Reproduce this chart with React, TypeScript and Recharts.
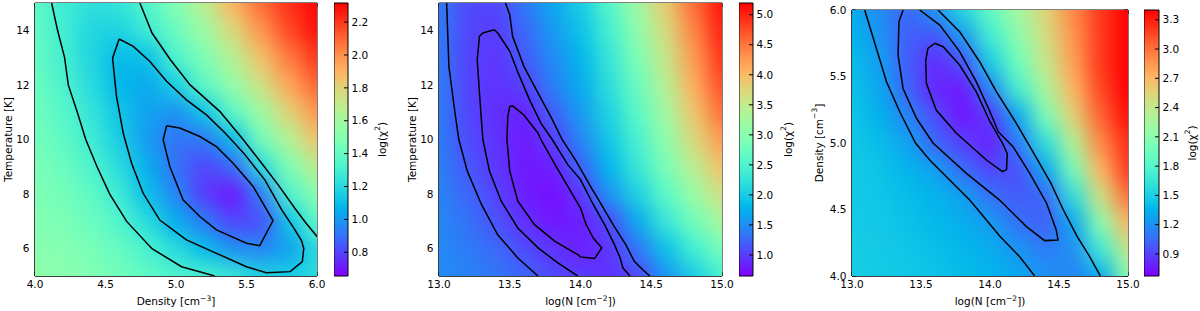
import React from 'react'
import { ScatterChart, Scatter, XAxis, YAxis, ReferenceArea, ReferenceLine } from 'recharts'

type Pt = [number, number]
type Part = string | { sup: string }

// ---------- panel 1: Density / Temperature ----------
const p1X = [4.0, 4.2, 4.4, 4.6, 4.8, 5.0, 5.2, 5.4, 5.6, 5.8, 6.0]
const p1Y = [15, 14, 13, 12, 11, 10, 9, 8, 7, 6, 5] // rows of p1Grid, top to bottom
const p1Grid = [
  [1.38, 1.28, 1.22, 1.24, 1.34, 1.5, 1.68, 1.9, 2.08, 2.22, 2.3],
  [1.39, 1.29, 1.18, 1.17, 1.28, 1.42, 1.58, 1.78, 1.98, 2.16, 2.28],
  [1.4, 1.3, 1.18, 1.09, 1.11, 1.33, 1.48, 1.66, 1.86, 2.05, 2.2],
  [1.42, 1.32, 1.2, 1.08, 1.04, 1.16, 1.38, 1.55, 1.74, 1.94, 2.1],
  [1.43, 1.36, 1.24, 1.12, 1.02, 0.98, 1.12, 1.38, 1.58, 1.8, 1.98],
  [1.45, 1.38, 1.28, 1.15, 1.0, 0.9, 0.92, 1.09, 1.45, 1.65, 1.85],
  [1.47, 1.42, 1.33, 1.2, 1.05, 0.9, 0.8, 0.88, 1.2, 1.48, 1.68],
  [1.48, 1.45, 1.38, 1.27, 1.1, 0.95, 0.78, 0.7, 0.93, 1.33, 1.52],
  [1.5, 1.47, 1.42, 1.33, 1.2, 1.05, 0.93, 0.8, 0.82, 1.12, 1.38],
  [1.52, 1.5, 1.46, 1.4, 1.31, 1.2, 1.09, 0.98, 0.95, 1.02, 1.2],
  [1.54, 1.52, 1.49, 1.44, 1.38, 1.33, 1.31, 1.25, 1.17, 1.15, 1.2],
]
const p1XTicks = [4.0, 4.5, 5.0, 5.5, 6.0]
const p1YTicks = [6, 8, 10, 12, 14]
const p1Range: [number, number] = [0.656, 2.316]
const p1CbarTicks = [0.8, 1.0, 1.2, 1.4, 1.6, 1.8, 2.0, 2.2]

const p1OuterA: Pt[] = [[4.118, 15], [4.16, 14], [4.21, 13], [4.236, 12], [4.3, 11], [4.36, 10], [4.44, 9], [4.53, 8], [4.65, 7], [4.83, 6], [5.04, 5.34], [5.275, 5]]
const p1OuterB: Pt[] = [[4.744, 15], [4.83, 13.9], [4.96, 12.92], [5.1, 12.0], [5.31, 11.03], [5.476, 10.0], [5.59, 9.25], [5.73, 8.3], [5.84, 7.5], [5.92, 6.95], [6.0, 6.45]]
const p1Middle: Pt[] = [
  [4.597, 13.68], [4.697, 13.41], [4.815, 12.86], [4.933, 12.13], [5.074, 11.45], [5.216, 10.9], [5.35, 10.23],
  [5.48, 9.5], [5.63, 8.52], [5.75, 7.42], [5.83, 6.8], [5.89, 6.3], [5.906, 6.01], [5.896, 5.53], [5.81, 5.16],
  [5.64, 5.12], [5.5, 5.34], [5.287, 5.83], [5.074, 6.32], [4.885, 7.05], [4.767, 8.03], [4.685, 9.13],
  [4.626, 10.23], [4.578, 11.58], [4.55, 12.98], [4.597, 13.68],
]
const p1Inner: Pt[] = [
  [4.933, 10.5], [5.027, 10.42], [5.169, 10.11], [5.287, 9.74], [5.405, 9.13], [5.547, 8.28], [5.688, 7.03],
  [5.594, 6.11], [5.5, 6.2], [5.287, 6.69], [5.169, 7.18], [5.05, 7.79], [4.956, 9.01], [4.909, 9.99], [4.933, 10.5],
]

// ---------- panel 2: log N / Temperature ----------
const p2X = [13.0, 13.2, 13.4, 13.6, 13.8, 14.0, 14.2, 14.4, 14.6, 14.8, 15.0]
const p2Y = [15, 14, 13, 12, 11, 10, 9, 8, 7, 6, 5]
const p2Grid = [
  [1.38, 1.08, 1.05, 1.35, 1.68, 2.0, 2.55, 3.2, 3.85, 4.55, 5.1],
  [1.38, 1.06, 0.99, 1.25, 1.58, 1.9, 2.4, 3.05, 3.7, 4.4, 5.0],
  [1.38, 1.04, 0.95, 1.18, 1.48, 1.8, 2.28, 2.9, 3.55, 4.25, 4.9],
  [1.39, 1.04, 0.93, 1.02, 1.4, 1.72, 2.18, 2.75, 3.4, 4.1, 4.75],
  [1.39, 1.06, 0.92, 0.84, 1.2, 1.6, 2.06, 2.6, 3.22, 3.92, 4.55],
  [1.4, 1.08, 0.94, 0.8, 1.0, 1.45, 1.95, 2.45, 3.05, 3.72, 4.25],
  [1.42, 1.16, 0.97, 0.79, 0.82, 1.24, 1.8, 2.3, 2.88, 3.45, 3.95],
  [1.44, 1.26, 1.04, 0.82, 0.72, 0.95, 1.55, 2.05, 2.6, 3.15, 3.65],
  [1.46, 1.33, 1.13, 0.93, 0.78, 0.82, 1.08, 1.7, 2.3, 2.8, 3.3],
  [1.48, 1.38, 1.27, 1.08, 0.95, 0.83, 0.95, 1.35, 1.9, 2.4, 2.85],
  [1.5, 1.43, 1.36, 1.24, 1.07, 0.99, 0.93, 1.05, 1.55, 2.0, 2.45],
]
const p2XTicks = [13.0, 13.5, 14.0, 14.5, 15.0]
const p2YTicks = [6, 8, 10, 12, 14]
const p2Range: [number, number] = [0.65, 5.195]
const p2CbarTicks = [1.0, 1.5, 2.0, 2.5, 3.0, 3.5, 4.0, 4.5, 5.0]

const p2OuterA: Pt[] = [[13.054, 15], [13.07, 12.68], [13.11, 11.09], [13.14, 10.0], [13.2, 8.84], [13.3, 7.62], [13.415, 6.51], [13.557, 5.66], [13.7, 5.0]]
const p2OuterB: Pt[] = [
  [13.47, 15], [13.5, 14.57], [13.52, 13.78], [13.6, 12.68], [13.7, 11.7], [13.79, 10.84], [13.87, 10.0],
  [13.97, 9.2], [14.08, 8.2], [14.15, 7.6], [14.23, 6.88], [14.32, 6.15], [14.38, 5.54], [14.44, 5.23], [14.49, 5.0],
]
const p2Middle: Pt[] = [
  [13.98, 5.0], [13.84, 5.48], [13.7, 6.03], [13.557, 6.76], [13.44, 7.74], [13.357, 8.84], [13.31, 10.0],
  [13.286, 11.7], [13.27, 12.92], [13.286, 13.78], [13.31, 13.9], [13.39, 14.02], [13.415, 13.9], [13.5, 13.23],
  [13.56, 12.43], [13.64, 11.45], [13.72, 10.6], [13.8, 10.0], [13.91, 9.08], [14.0, 8.53], [14.09, 7.62],
  [14.17, 6.88], [14.24, 6.15], [14.28, 5.66], [14.3, 5.29], [14.35, 5.0],
]
const p2Inner: Pt[] = [
  [13.5, 11.21], [13.52, 11.23], [13.6, 10.9], [13.7, 10.23], [13.72, 10.0], [13.82, 9.08], [13.93, 8.11],
  [14.0, 7.49], [14.04, 6.88], [14.09, 6.39], [14.15, 6.03], [14.1, 5.64], [14.0, 5.7], [13.98, 5.78],
  [13.82, 6.27], [13.675, 6.88], [13.557, 7.74], [13.5, 8.84], [13.48, 10.0], [13.486, 10.84], [13.5, 11.21],
]

// ---------- panel 3: log N / Density ----------
const p3X = [13.0, 13.2, 13.4, 13.6, 13.8, 14.0, 14.2, 14.4, 14.6, 14.8, 15.0]
const p3Y = [6.0, 5.8, 5.6, 5.4, 5.2, 5.0, 4.8, 4.6, 4.4, 4.2, 4.0]
const p3Grid = [
  [1.32, 1.18, 1.03, 1.22, 1.55, 1.88, 2.22, 2.55, 2.9, 3.2, 3.4],
  [1.36, 1.22, 1.0, 0.97, 1.22, 1.7, 2.1, 2.48, 2.85, 3.2, 3.4],
  [1.4, 1.26, 1.0, 0.82, 0.95, 1.48, 1.95, 2.4, 2.8, 3.2, 3.4],
  [1.42, 1.3, 1.03, 0.8, 0.76, 1.15, 1.72, 2.25, 2.7, 3.15, 3.4],
  [1.44, 1.35, 1.15, 0.95, 0.74, 0.87, 1.3, 2.0, 2.55, 3.05, 3.35],
  [1.45, 1.4, 1.28, 1.03, 0.9, 0.78, 1.12, 1.6, 2.3, 2.9, 3.25],
  [1.46, 1.43, 1.36, 1.27, 1.06, 0.92, 0.95, 1.3, 2.0, 2.7, 3.2],
  [1.46, 1.44, 1.4, 1.35, 1.27, 1.08, 0.98, 1.04, 1.6, 2.45, 3.0],
  [1.47, 1.45, 1.42, 1.38, 1.33, 1.25, 1.08, 1.0, 1.3, 2.1, 2.7],
  [1.48, 1.46, 1.44, 1.41, 1.37, 1.32, 1.22, 1.12, 1.18, 1.7, 2.4],
  [1.48, 1.47, 1.45, 1.43, 1.4, 1.36, 1.3, 1.2, 1.15, 1.3, 2.1],
]
const p3XTicks = [13.0, 13.5, 14.0, 14.5, 15.0]
const p3YTicks = [4.0, 4.5, 5.0, 5.5, 6.0]
const p3Range: [number, number] = [0.674, 3.4]
const p3CbarTicks = [0.9, 1.2, 1.5, 1.8, 2.1, 2.4, 2.7, 3.0, 3.3]

const p3OuterA: Pt[] = [
  [13.092, 6.0], [13.177, 5.71], [13.25, 5.46], [13.346, 5.235], [13.46, 5.0], [13.563, 4.872], [13.708, 4.722],
  [13.853, 4.571], [13.974, 4.421], [14.07, 4.3], [14.215, 4.145], [14.324, 4.0],
]
const p3OuterB: Pt[] = [
  [13.623, 6.0], [13.78, 5.837], [13.925, 5.611], [14.046, 5.386], [14.19, 5.15], [14.33, 4.9], [14.44, 4.7],
  [14.53, 4.5], [14.63, 4.3], [14.72, 4.15], [14.8, 4.0],
]
const p3Middle: Pt[] = [
  [13.37, 6.0], [13.34, 5.91], [13.334, 5.66], [13.37, 5.41], [13.467, 5.186], [13.587, 5.0], [13.829, 4.772],
  [14.07, 4.571], [14.264, 4.371], [14.396, 4.266], [14.493, 4.271], [14.48, 4.346], [14.41, 4.547],
  [14.288, 4.772], [14.167, 4.972], [14.06, 5.085], [14.0, 5.235], [13.9, 5.461], [13.78, 5.687],
  [13.636, 5.887], [13.49, 6.0],
]
const p3Inner: Pt[] = [
  [13.6, 5.75], [13.66, 5.724], [13.78, 5.586], [13.9, 5.386], [14.0, 5.16], [14.09, 5.0], [14.125, 4.92],
  [14.12, 4.8], [14.09, 4.784], [13.974, 4.872], [13.757, 5.073], [13.61, 5.248], [13.539, 5.449],
  [13.534, 5.62], [13.55, 5.712], [13.6, 5.75],
]

// matplotlib "rainbow" colormap
const rainbow = (t: number) => {
  const c = Math.min(1, Math.max(0, t))
  const ch = (v: number) => Math.round(Math.min(1, Math.max(0, v)) * 255)
  const r = Math.abs(2 * c - 0.5)
  const g = Math.sin(Math.PI * c)
  const b = Math.cos((Math.PI * c) / 2)
  return `rgb(${ch(r)},${ch(g)},${ch(b)})`
}

const FONT = 10.5
const CHART_H = 311
const X_AXIS_H = 35
const TICK_LEN = 4

const Title = ({ parts, x, y, rotate }: { parts: Part[]; x: number; y: number; rotate?: boolean }) => (
  <text
    x={x}
    y={y}
    textAnchor="middle"
    fontSize={FONT}
    fill="#000"
    dominantBaseline={rotate ? 'central' : undefined}
    transform={rotate ? `rotate(-90 ${x} ${y})` : undefined}
  >
    {parts.map((p, k) =>
      typeof p === 'string' ? (
        <tspan key={k}>{p}</tspan>
      ) : (
        <tspan key={k} fontSize={7.5} baselineShift="super">
          {p.sup}
        </tspan>
      )
    )}
  </text>
)

interface PanelProps {
  left: number
  top: number
  axisW: number
  plotW: number
  xs: number[]
  ys: number[]
  grid: number[][]
  range: [number, number]
  xTicks: number[]
  yTicks: number[]
  yFmt: (v: number) => string
  contours: Pt[][]
  xTitle: Part[]
  yTitle: Part[]
  yTitleX: number
}

const Panel = ({ left, top, axisW, plotW, xs, ys, grid, range, xTicks, yTicks, yFmt, contours, xTitle, yTitle, yTitleX }: PanelProps) => {
  const rightPad = 14
  const plotH = CHART_H - X_AXIS_H - top
  const [x0d, x1d] = [xs[0], xs[xs.length - 1]]
  const [y0d, y1d] = [ys[ys.length - 1], ys[0]]
  const cw = plotW / (xs.length - 1)
  const chh = plotH / (ys.length - 1)
  const ext = 30
  // tick length on the mirrored top / right sides, in data units
  const dy = (TICK_LEN * (y1d - y0d)) / plotH
  const dx = (TICK_LEN * (x1d - x0d)) / plotW

  const cells = grid.flatMap((row, j) => row.map((v, i) => ({ x: xs[i], y: ys[j], v, i, j })))

  const cellShape = (props: any) => {
    const { cx, cy, payload } = props
    let a = cx - cw / 2
    let b = cx + cw / 2
    let c = cy - chh / 2
    let d = cy + chh / 2
    if (payload.i === 0) a -= ext
    if (payload.i === xs.length - 1) b += ext
    if (payload.j === 0) c -= ext
    if (payload.j === ys.length - 1) d += ext
    const t = (payload.v - range[0]) / (range[1] - range[0])
    return <rect x={a} y={c} width={b - a + 0.6} height={d - c + 0.6} fill={rainbow(t)} />
  }

  const axisStyle = { stroke: '#000', strokeWidth: 1 }
  const tickStyle = { fill: '#000', fontSize: FONT }

  return (
    <div style={{ position: 'absolute', left, top: 0 }}>
      <ScatterChart width={axisW + plotW + rightPad} height={CHART_H} margin={{ top, right: rightPad, bottom: 0, left: 0 }}>
        <XAxis
          type="number"
          dataKey="x"
          domain={[x0d, x1d]}
          ticks={xTicks}
          interval={0}
          allowDataOverflow
          height={X_AXIS_H}
          tickSize={-TICK_LEN}
          tickMargin={8.5}
          tickFormatter={(v: number) => v.toFixed(1)}
          axisLine={axisStyle}
          tickLine={axisStyle}
          tick={tickStyle}
          label={() => <Title parts={xTitle} x={axisW + plotW / 2} y={304.5} />}
        />
        <YAxis
          type="number"
          dataKey="y"
          domain={[y0d, y1d]}
          ticks={yTicks}
          interval={0}
          allowDataOverflow
          width={axisW}
          tickSize={-TICK_LEN}
          tickMargin={9.5}
          tickFormatter={yFmt}
          axisLine={axisStyle}
          tickLine={axisStyle}
          tick={tickStyle}
          label={() => <Title parts={yTitle} x={yTitleX} y={top + plotH / 2} rotate />}
        />
        <Scatter className="heatmap" data={cells} shape={cellShape} isAnimationActive={false} legendType="none" />
        {contours.map((c, k) => (
          <Scatter
            key={k}
            data={c.map(([x, y]) => ({ x, y }))}
            line={{ stroke: '#000', strokeWidth: 1.5 }}
            shape={() => <g />}
            isAnimationActive={false}
            legendType="none"
          />
        ))}
        <ReferenceArea x1={x0d} x2={x1d} y1={y0d} y2={y1d} fill="none" stroke="#000" strokeWidth={1} ifOverflow="visible" />
        {xTicks.map((t) => (
          <ReferenceLine
            key={`tx${t}`}
            segment={[
              { x: t, y: y1d },
              { x: t, y: y1d - dy },
            ]}
            stroke="#000"
            ifOverflow="visible"
          />
        ))}
        {yTicks.map((t) => (
          <ReferenceLine
            key={`ty${t}`}
            segment={[
              { x: x1d, y: t },
              { x: x1d - dx, y: t },
            ]}
            stroke="#000"
            ifOverflow="visible"
          />
        ))}
      </ScatterChart>
    </div>
  )
}

interface CbarProps {
  left: number
  top: number
  barW: number
  axisW: number
  range: [number, number]
  ticks: number[]
  titleX: number
}

const Colorbar = ({ left, top, barW, axisW, range, ticks, titleX }: CbarProps) => {
  const plotH = CHART_H - X_AXIS_H - top
  // the two ends of the colour scale, so the axes get a domain
  const ends = [
    { x: 0, y: range[0] },
    { x: 1, y: range[1] },
  ]
  const dx = TICK_LEN / barW
  return (
    <div style={{ position: 'absolute', left, top: 0 }}>
      <ScatterChart width={barW + axisW} height={CHART_H} margin={{ top, right: 0, bottom: X_AXIS_H, left: 0 }}>
        <XAxis type="number" dataKey="x" domain={[0, 1]} allowDataOverflow hide />
        <YAxis
          type="number"
          dataKey="y"
          orientation="right"
          domain={range}
          ticks={ticks}
          interval={0}
          allowDataOverflow
          width={axisW}
          tickSize={-TICK_LEN}
          tickMargin={7.5}
          tickFormatter={(v: number) => v.toFixed(1)}
          axisLine={false}
          tickLine={false}
          tick={{ fill: '#000', fontSize: FONT }}
          label={() => <Title parts={['log(χ', { sup: '2' }, ')']} x={barW + titleX} y={top + plotH / 2} rotate />}
        />
        <Scatter data={ends} shape={() => <g />} isAnimationActive={false} legendType="none" />
        <ReferenceArea
          x1={0}
          x2={1}
          y1={range[0]}
          y2={range[1]}
          fill="url(#cmap)"
          fillOpacity={1}
          stroke="#000"
          strokeWidth={1}
          ifOverflow="visible"
        />
        {ticks.map((t) => (
          <ReferenceLine
            key={t}
            segment={[
              { x: 1, y: t },
              { x: 1 - dx, y: t },
            ]}
            stroke="#000"
            ifOverflow="visible"
          />
        ))}
      </ScatterChart>
    </div>
  )
}

const gradStops = Array.from({ length: 21 }, (_, k) => k / 20)

export default function App() {
  const intFmt = (v: number) => String(v)
  const oneFmt = (v: number) => v.toFixed(1)
  return (
    <div
      style={{
        position: 'absolute',
        left: 0,
        top: 0,
        width: 1200,
        height: 311,
        background: '#fff',
        fontFamily: '"DejaVu Sans", sans-serif',
        overflow: 'hidden',
      }}
    >
      <style>{`.heatmap { filter: url(#heatBlur); }`}</style>
      <svg width={0} height={0} style={{ position: 'absolute' }}>
        <defs>
          <linearGradient id="cmap" x1="0" y1="1" x2="0" y2="0">
            {gradStops.map((t) => (
              <stop key={t} offset={t} stopColor={rainbow(t)} />
            ))}
          </linearGradient>
          <filter id="heatBlur" x="-20%" y="-20%" width="140%" height="140%" colorInterpolationFilters="sRGB">
            <feGaussianBlur stdDeviation={10} />
          </filter>
        </defs>
      </svg>

      <Panel
        left={0}
        top={3}
        axisW={35}
        plotW={282}
        xs={p1X}
        ys={p1Y}
        grid={p1Grid}
        range={p1Range}
        xTicks={p1XTicks}
        yTicks={p1YTicks}
        yFmt={intFmt}
        contours={[p1OuterA, p1OuterB, p1Middle, p1Inner]}
        xTitle={['Density [cm', { sup: '−3' }, ']']}
        yTitle={['Temperature [K]']}
        yTitleX={7.5}
      />
      <Colorbar left={334} top={3} barW={14} axisW={46} range={p1Range} ticks={p1CbarTicks} titleX={34} />

      <Panel
        left={404}
        top={3}
        axisW={35}
        plotW={283}
        xs={p2X}
        ys={p2Y}
        grid={p2Grid}
        range={p2Range}
        xTicks={p2XTicks}
        yTicks={p2YTicks}
        yFmt={intFmt}
        contours={[p2OuterA, p2OuterB, p2Middle, p2Inner]}
        xTitle={['log(N [cm', { sup: '−2' }, '])']}
        yTitle={['Temperature [K]']}
        yTitleX={8}
      />
      <Colorbar left={739} top={3} barW={14} axisW={46} range={p2Range} ticks={p2CbarTicks} titleX={35} />

      <Panel
        left={807}
        top={10}
        axisW={45}
        plotW={276}
        xs={p3X}
        ys={p3Y}
        grid={p3Grid}
        range={p3Range}
        xTicks={p3XTicks}
        yTicks={p3YTicks}
        yFmt={oneFmt}
        contours={[p3OuterA, p3OuterB, p3Middle, p3Inner]}
        xTitle={['log(N [cm', { sup: '−2' }, '])']}
        yTitle={['Density [cm', { sup: '−3' }, ']']}
        yTitleX={12}
      />
      <Colorbar left={1144} top={10} barW={15} axisW={41} range={p3Range} ticks={p3CbarTicks} titleX={33} />
    </div>
  )
}
